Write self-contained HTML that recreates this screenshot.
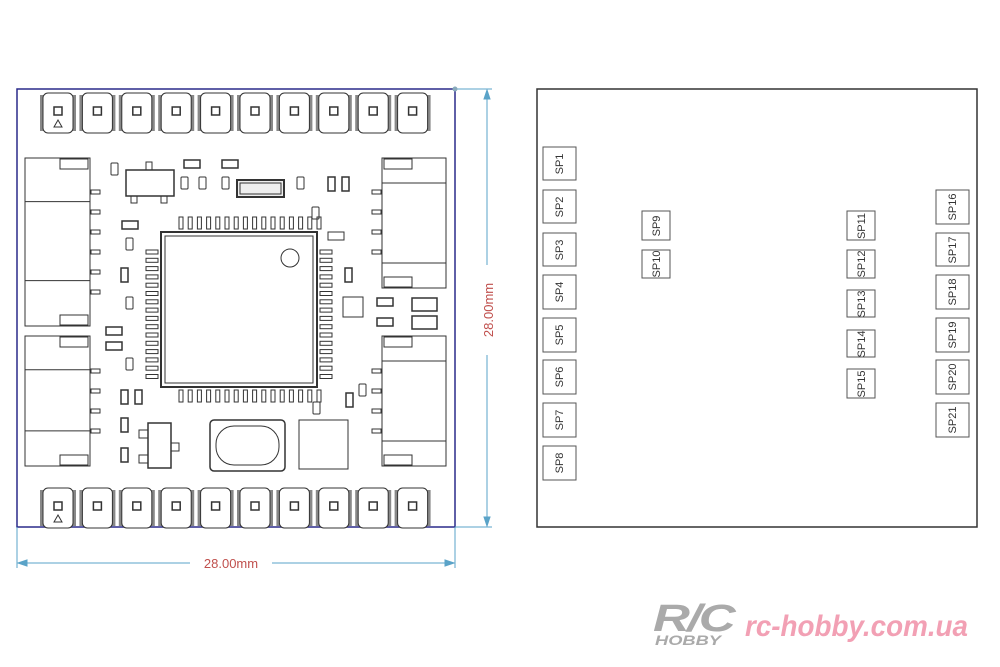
<!DOCTYPE html>
<html><head><meta charset="utf-8"><style>
html,body{margin:0;padding:0;background:#fff;width:1000px;height:667px;overflow:hidden}
svg{display:block}
</style></head><body>
<svg id="s" width="1000" height="667" viewBox="0 0 1000 667" xmlns="http://www.w3.org/2000/svg" font-family="Liberation Sans, sans-serif">
<rect width="1000" height="667" fill="#fff"/>
<!-- left board -->
<rect x="17" y="89" width="438" height="438" fill="#fff" stroke="#2a2a8a" stroke-width="1.5"/>
<g id="g" fill="none" stroke="#333" stroke-width="1"></g>
<!-- dimensions -->
<g stroke="#5aa3c8" stroke-width="1" fill="#5aa3c8">
<line x1="455" y1="89" x2="492" y2="89"/>
<line x1="455" y1="527" x2="492" y2="527"/>
<line x1="487" y1="92" x2="487" y2="265"/>
<line x1="487" y1="355" x2="487" y2="524"/>
<path d="M487 90 l-3 9 h6z M487 526 l-3 -9 h6z"/>
<line x1="17" y1="527" x2="17" y2="568"/>
<line x1="455" y1="527" x2="455" y2="568"/>
<line x1="20" y1="563" x2="190" y2="563"/>
<line x1="272" y1="563" x2="452" y2="563"/>
<path d="M18 563 l9 -3 v6z M454 563 l-9 -3 v6z"/>
<circle cx="455" cy="89" r="2.5" fill="#8ab" stroke="none"/>
</g>
<text x="231" y="568" font-size="13" fill="#c0504d" text-anchor="middle">28.00mm</text>
<text transform="translate(493,310) rotate(-90)" font-size="13" fill="#c0504d" text-anchor="middle">28.00mm</text>
<!-- right board -->
<rect x="537" y="89" width="440" height="438" fill="none" stroke="#333" stroke-width="1.5"/>
<g fill="#fff" stroke="#555" stroke-width="1">
<rect x="543" y="147" width="33" height="33"/><rect x="543" y="190" width="33" height="33"/>
<rect x="543" y="233" width="33" height="33"/><rect x="543" y="275" width="33" height="34"/>
<rect x="543" y="318" width="33" height="34"/><rect x="543" y="360" width="33" height="34"/>
<rect x="543" y="403" width="33" height="34"/><rect x="543" y="446" width="33" height="34"/>
<rect x="642" y="211" width="28" height="29"/><rect x="642" y="250" width="28" height="28"/>
<rect x="847" y="211" width="28" height="29"/><rect x="847" y="250" width="28" height="28"/>
<rect x="847" y="290" width="28" height="27"/><rect x="847" y="330" width="28" height="27"/>
<rect x="847" y="369" width="28" height="29"/>
<rect x="936" y="190" width="33" height="34"/><rect x="936" y="233" width="33" height="33"/>
<rect x="936" y="275" width="33" height="34"/><rect x="936" y="318" width="33" height="34"/>
<rect x="936" y="360" width="33" height="34"/><rect x="936" y="403" width="33" height="34"/>
</g>
<g font-size="11" fill="#333" text-anchor="middle">
<text transform="translate(563,164) rotate(-90)">SP1</text>
<text transform="translate(563,207) rotate(-90)">SP2</text>
<text transform="translate(563,250) rotate(-90)">SP3</text>
<text transform="translate(563,292) rotate(-90)">SP4</text>
<text transform="translate(563,335) rotate(-90)">SP5</text>
<text transform="translate(563,377) rotate(-90)">SP6</text>
<text transform="translate(563,420) rotate(-90)">SP7</text>
<text transform="translate(563,463) rotate(-90)">SP8</text>
<text transform="translate(660,226) rotate(-90)">SP9</text>
<text transform="translate(660,264) rotate(-90)">SP10</text>
<text transform="translate(865,226) rotate(-90)">SP11</text>
<text transform="translate(865,264) rotate(-90)">SP12</text>
<text transform="translate(865,304) rotate(-90)">SP13</text>
<text transform="translate(865,344) rotate(-90)">SP14</text>
<text transform="translate(865,384) rotate(-90)">SP15</text>
<text transform="translate(956,207) rotate(-90)">SP16</text>
<text transform="translate(956,250) rotate(-90)">SP17</text>
<text transform="translate(956,292) rotate(-90)">SP18</text>
<text transform="translate(956,335) rotate(-90)">SP19</text>
<text transform="translate(956,377) rotate(-90)">SP20</text>
<text transform="translate(956,420) rotate(-90)">SP21</text>
</g>
<!-- watermark -->
<text x="653" y="631" font-size="38" font-weight="bold" font-style="italic" fill="#aaa" letter-spacing="-2" textLength="80" lengthAdjust="spacingAndGlyphs">R/C</text>
<text x="655" y="645" font-size="14" font-weight="bold" font-style="italic" fill="#aaa" textLength="66" lengthAdjust="spacingAndGlyphs">HOBBY</text>
<text x="745" y="636" font-size="30" font-weight="bold" font-style="italic" fill="#f2a0b4" textLength="223" lengthAdjust="spacingAndGlyphs">rc-hobby.com.ua</text>
</svg>
<script>
var g=document.getElementById('g'),ns='http://www.w3.org/2000/svg';
function R(x,y,w,h,o){var e=document.createElementNS(ns,'rect');e.setAttribute('x',x);e.setAttribute('y',y);e.setAttribute('width',w);e.setAttribute('height',h);if(o)for(var k in o)e.setAttribute(k,o[k]);g.appendChild(e);return e;}
function L(a,b,c,d){var e=document.createElementNS(ns,'line');e.setAttribute('x1',a);e.setAttribute('y1',b);e.setAttribute('x2',c);e.setAttribute('y2',d);g.appendChild(e);}
for(var i=0;i<10;i++){var cx=58+i*39.4;[93,488].forEach(function(y){
 R(cx-18,y+2,5,36,{fill:'#888',stroke:'none'});R(cx+13,y+2,5,36,{fill:'#888',stroke:'none'});
 R(cx-15,y,30,40,{rx:5,fill:'#fff'});R(cx-4,y+14,8,8,{'stroke-width':1.5});
 if(i==0){var p=document.createElementNS(ns,'path');p.setAttribute('d','M'+(cx-4)+' '+(y+34)+' l4 -7 l4 7z');g.appendChild(p);}
});}
[[25,158,168],[25,336,130]].forEach(function(c){R(c[0],c[1],65,c[2]);R(60,c[1]+1,28,10);R(60,c[1]+c[2]-11,28,10);L(25,c[1]+c[2]*0.26,90,c[1]+c[2]*0.26);L(25,c[1]+c[2]*0.73,90,c[1]+c[2]*0.73);});
[[382,158,130],[382,336,130]].forEach(function(c){R(c[0],c[1],64,c[2]);R(384,c[1]+1,28,10);R(384,c[1]+c[2]-11,28,10);L(382,c[1]+25,446,c[1]+25);L(382,c[1]+c[2]-25,446,c[1]+c[2]-25);});
[192,212,232,252,272,292,371,391,411,431].forEach(function(y){R(91,y-2,9,4);});
[192,212,232,252,371,391,411,431].forEach(function(y){R(372,y-2,9,4);});
R(161,232,156,155,{'stroke-width':2});R(165,236,148,147);
for(var i=0;i<16;i++){var x=179+i*9.2;R(x,217,4,12);R(x,390,4,12);var y=250+i*8.3;R(146,y,12,4);R(320,y,12,4);}
var c=document.createElementNS(ns,'circle');c.setAttribute('cx',290);c.setAttribute('cy',258);c.setAttribute('r',9);g.appendChild(c);
R(126,170,48,26,{'stroke-width':1.5});R(146,162,6,8);R(131,196,6,7);R(161,196,6,7);
[[111,163],[181,177],[199,177],[222,177],[297,177],[312,207],[126,238],[126,297],[126,358],[359,384],[313,402]].forEach(function(p){R(p[0],p[1],7,12,{rx:1});});
[[184,160],[222,160],[122,221],[377,298],[377,318],[106,327],[106,342]].forEach(function(p){R(p[0],p[1],16,8,{'stroke-width':1.5});});
[[328,177],[342,177],[345,268],[121,268],[121,390],[135,390],[121,418],[121,448],[346,393]].forEach(function(p){R(p[0],p[1],7,14,{'stroke-width':1.5});});
R(328,232,16,8);R(237,180,47,17,{'stroke-width':2,fill:'#eee'});R(240,183,41,11);
R(343,297,20,20);R(412,298,25,13,{'stroke-width':1.5});R(412,316,25,13,{'stroke-width':1.5});
R(148,423,23,45,{'stroke-width':1.5});R(139,430,9,8);R(139,455,9,8);R(171,443,8,8);
R(210,420,75,51,{rx:4,'stroke-width':1.5});R(216,426,63,39,{rx:18});
R(299,420,49,49);
</script>
</body></html>
